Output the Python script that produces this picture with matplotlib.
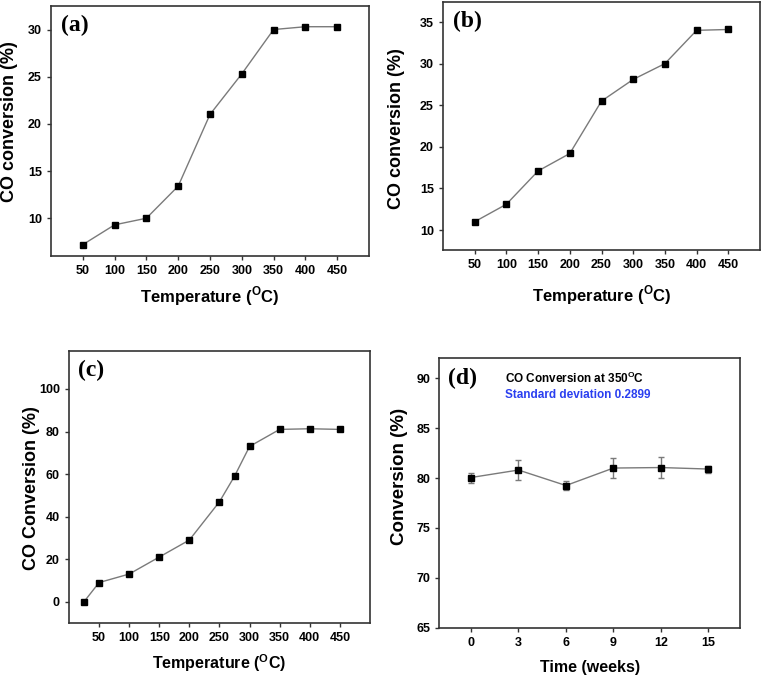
import numpy as np
import matplotlib
matplotlib.use("Agg")
import matplotlib.pyplot as plt

plt.rcParams['font.family'] = ['Liberation Sans', 'DejaVu Sans']
plt.rcParams['font.weight'] = 'bold'
plt.rcParams['mathtext.fontset'] = 'custom'
plt.rcParams['mathtext.rm'] = 'Liberation Sans:bold'
plt.rcParams['mathtext.bf'] = 'Liberation Sans:bold'

# data
temp_a = [50, 100, 150, 200, 250, 300, 350, 400, 450]
conv_a = [7.2, 9.3, 10.0, 13.4, 21.0, 25.3, 30.0, 30.3, 30.3]

temp_b = [50, 100, 150, 200, 250, 300, 350, 400, 450]
conv_b = [11.0, 13.1, 17.1, 19.2, 25.5, 28.1, 30.0, 34.0, 34.1]

temp_c = [25, 50, 100, 150, 200, 250, 275, 300, 350, 400, 450]
conv_c = [0, 9, 13, 21, 29, 47, 59, 73, 81, 81.3, 81]

weeks = [0, 3, 6, 9, 12, 15]
conv_d = [80.05, 80.8, 79.25, 81.0, 81.05, 80.9]
err_d = [0.5, 1.0, 0.5, 1.0, 1.05, 0.35]

fig = plt.figure(figsize=(7.63, 6.77), dpi=100)

ax_a = fig.add_axes([0.0668, 0.6219, 0.4168, 0.3693])
ax_b = fig.add_axes([0.5806, 0.6307, 0.4155, 0.3663])
ax_c = fig.add_axes([0.0904, 0.0798, 0.3945, 0.4022])
ax_d = fig.add_axes([0.5758, 0.0728, 0.3941, 0.3980])

line_kw = dict(color='#7a7a7a', lw=1.0, marker='s', ms=5,
               mfc='black', mec='black')
temp_label = r'Temperature ($^{\mathbf{O}}$C)'


def style(ax):
    for s in ax.spines.values():
        s.set_color('#333333')
        s.set_linewidth(1.2)
    ax.tick_params(direction='out', length=3, width=1, colors='#333333',
                   labelcolor='black', labelsize=9, top=False, right=False)
    for t in ax.get_xticklabels() + ax.get_yticklabels():
        t.set_fontweight('bold')


def panel(ax, txt):
    ax.text(0.03, 0.965, txt, transform=ax.transAxes, ha='left', va='top',
            fontsize=17, fontweight='bold', family='Liberation Serif')


temp_ticks = [50, 100, 150, 200, 250, 300, 350, 400, 450]

ax_a.plot(temp_a, conv_a, **line_kw)
ax_a.set_xlim(0, 500)
ax_a.set_ylim(6, 32.5)
ax_a.set_xticks(temp_ticks)
ax_a.set_yticks([10, 15, 20, 25, 30])
ax_a.set_xlabel(temp_label, fontsize=12, fontweight='bold', labelpad=5)
ax_a.set_ylabel('CO conversion (%)', fontsize=13, fontweight='bold')
ax_a.yaxis.set_label_coords(-0.104, 0.536)
style(ax_a)
panel(ax_a, '(a)')

ax_b.plot(temp_b, conv_b, **line_kw)
ax_b.set_xlim(0, 500)
ax_b.set_ylim(7.6, 37.4)
ax_b.set_xticks(temp_ticks)
ax_b.set_yticks([10, 15, 20, 25, 30, 35])
ax_b.set_xlabel(temp_label, fontsize=12, fontweight='bold', labelpad=9)
ax_b.set_ylabel('CO conversion (%)', fontsize=13, fontweight='bold')
ax_b.yaxis.set_label_coords(-0.12, 0.49)
style(ax_b)
panel(ax_b, '(b)')

ax_c.plot(temp_c, conv_c, **line_kw)
ax_c.set_xlim(0, 500)
ax_c.set_ylim(-10, 118)
ax_c.set_xticks(temp_ticks)
ax_c.set_yticks([0, 20, 40, 60, 80, 100])
ax_c.set_xlabel(temp_label, fontsize=11.5, fontweight='bold', labelpad=6)
ax_c.set_ylabel('CO Conversion (%)', fontsize=13, fontweight='bold')
ax_c.yaxis.set_label_coords(-0.096, 0.494)
style(ax_c)
panel(ax_c, '(c)')

ax_d.errorbar(weeks, conv_d, yerr=err_d, capsize=2, ecolor='#7a7a7a',
              elinewidth=1, **line_kw)
ax_d.set_xlim(-2, 17)
ax_d.set_ylim(65, 92)
ax_d.set_xticks(weeks)
ax_d.set_yticks([65, 70, 75, 80, 85, 90])
ax_d.set_xlabel('Time (weeks)', fontsize=11.5, fontweight='bold', labelpad=8)
ax_d.set_ylabel('Conversion (%)', fontsize=13.5, fontweight='bold')
ax_d.yaxis.set_label_coords(-0.104, 0.56)
style(ax_d)
panel(ax_d, '(d)')
ax_d.text(0.22, 0.925, r'CO Conversion at 350$^{\mathbf{O}}$C', transform=ax_d.transAxes,
          ha='left', va='center', fontsize=8.5, fontweight='bold', color='black')
ax_d.text(0.22, 0.865, 'Standard deviation 0.2899', transform=ax_d.transAxes,
          ha='left', va='center', fontsize=8.5, fontweight='bold', color='#2a3ff0')

fig.savefig('out.png', dpi=100)
